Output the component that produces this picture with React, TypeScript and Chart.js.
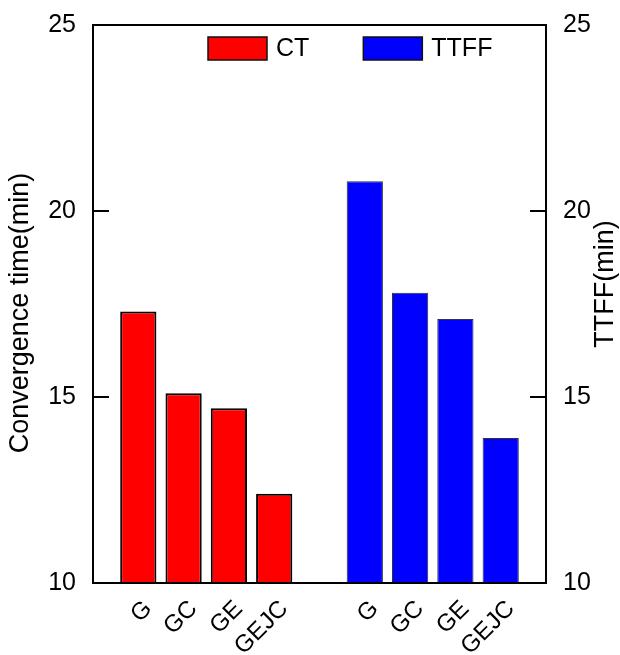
import { useEffect, useRef } from 'react';
import { Chart, registerables } from 'chart.js';

Chart.register(...registerables);

const categories = ['G', 'GC', 'GE', 'GEJC'];
const ctValues = [17.3, 15.1, 14.7, 12.4];
const ttffValues = [20.8, 17.8, 17.1, 13.9];
const yTicks = [10, 15, 20, 25];
const seriesNames = ['CT', 'TTFF'];
const axisTitles = ['Convergence time(min)', 'TTFF(min)'];

const FONT = '"Liberation Sans", Arial, Helvetica, sans-serif';

const decorPlugin = {
  id: 'decor',
  afterDraw(chart: any) {
    const { ctx, chartArea: a, scales } = chart;
    ctx.save();
    // frame
    ctx.strokeStyle = '#000';
    ctx.lineWidth = 2;
    ctx.strokeRect(a.left, a.top, a.right - a.left, a.bottom - a.top);
    // inward tick marks
    const tl = 16;
    ctx.beginPath();
    for (const t of scales.y.ticks) {
      const py = Math.round(scales.y.getPixelForValue(t.value));
      ctx.moveTo(a.left, py);
      ctx.lineTo(a.left + tl, py);
    }
    for (const t of scales.y1.ticks) {
      const py = Math.round(scales.y1.getPixelForValue(t.value));
      ctx.moveTo(a.right, py);
      ctx.lineTo(a.right - tl, py);
    }
    ctx.stroke();

    // legend inside the plot
    ctx.font = `25px ${FONT}`;
    ctx.textBaseline = 'middle';
    ctx.textAlign = 'left';
    let x = a.left + 115;
    const by = a.top + 12;
    const bw = 59;
    const bh = 23;
    chart.data.datasets.forEach((ds: any) => {
      ctx.fillStyle = ds.backgroundColor;
      ctx.fillRect(x, by, bw, bh);
      ctx.lineWidth = 1.5;
      ctx.strokeStyle = '#111';
      ctx.strokeRect(x, by, bw, bh);
      ctx.fillStyle = '#000';
      ctx.fillText(ds.label, x + bw + 9, by + bh / 2 + 1);
      x += bw + 9 + ctx.measureText(ds.label).width + 54;
    });

    // axis titles (both read bottom-to-top)
    ctx.font = `27px ${FONT}`;
    ctx.textAlign = 'center';
    ctx.textBaseline = 'middle';
    const cy = (a.top + a.bottom) / 2;
    ctx.save();
    ctx.translate(scales.y.left + 21, cy + 9);
    ctx.rotate(-Math.PI / 2);
    ctx.fillText(axisTitles[0], 0, 0);
    ctx.restore();
    ctx.save();
    ctx.translate(scales.y1.right - 14, cy - 20);
    ctx.rotate(-Math.PI / 2);
    ctx.fillText(axisTitles[1], 0, 0);
    ctx.restore();

    ctx.restore();
  },
};

export default function App() {
  const ref = useRef<HTMLCanvasElement>(null);

  useEffect(() => {
    document.body.style.margin = '0';
    const canvas = ref.current;
    if (!canvas) return;

    const labels = ['', ...categories, '', ...categories, ''];
    const gap = categories.map(() => null);
    const ctData = [null, ...ctValues, null, ...gap, null];
    const ttData = [null, ...gap, null, ...ttffValues, null];

    const yMin = yTicks[0];
    const yMax = yTicks[yTicks.length - 1];
    const step = yTicks[1] - yTicks[0];

    const yFit = (w: number) => (s: any) => {
      s.width = w;
      s.paddingTop = 0;
      s.paddingBottom = 0;
    };

    const chart = new Chart(canvas, {
      type: 'bar',
      data: {
        labels,
        datasets: [
          {
            label: seriesNames[0],
            data: ctData,
            yAxisID: 'y',
            backgroundColor: '#ff0000',
            borderColor: '#000000',
            borderWidth: 2,
            grouped: false,
            barPercentage: 0.8,
            categoryPercentage: 1,
          },
          {
            label: seriesNames[1],
            data: ttData,
            yAxisID: 'y1',
            backgroundColor: '#0000ff',
            borderColor: '#333333',
            borderWidth: 1,
            grouped: false,
            barPercentage: 0.8,
            categoryPercentage: 1,
          },
        ],
      },
      options: {
        responsive: false,
        animation: false,
        devicePixelRatio: 1,
        layout: { padding: { top: 25, left: 0, right: 0, bottom: 0 } },
        plugins: {
          legend: { display: false },
          tooltip: { enabled: false },
        },
        scales: {
          x: {
            type: 'category',
            offset: false,
            grid: { display: false, drawTicks: false },
            border: { display: false },
            ticks: {
              autoSkip: false,
              maxRotation: 45,
              minRotation: 45,
              padding: 12,
              labelOffset: 10,
              color: '#000',
              font: { family: FONT, size: 24 },
            },
            afterFit: (s: any) => {
              s.height = 72;
              s.paddingLeft = 0;
              s.paddingRight = 0;
            },
          },
          y: {
            type: 'linear',
            position: 'left',
            min: yMin,
            max: yMax,
            grid: { display: false, drawTicks: false },
            border: { display: false },
            ticks: {
              stepSize: step,
              padding: 17,
              color: '#000',
              font: { family: FONT, size: 25 },
            },
            afterFit: yFit(93),
          },
          y1: {
            type: 'linear',
            position: 'right',
            min: yMin,
            max: yMax,
            grid: { display: false, drawTicks: false },
            border: { display: false },
            ticks: {
              stepSize: step,
              padding: 17,
              color: '#000',
              font: { family: FONT, size: 25 },
            },
            afterFit: yFit(74),
          },
        },
      },
      plugins: [decorPlugin],
    });

    return () => {
      chart.destroy();
    };
  }, []);

  return (
    <div style={{ width: 620, height: 655 }}>
      <canvas
        ref={ref}
        width={620}
        height={655}
        style={{ display: 'block', width: '620px', height: '655px' }}
      />
    </div>
  );
}
